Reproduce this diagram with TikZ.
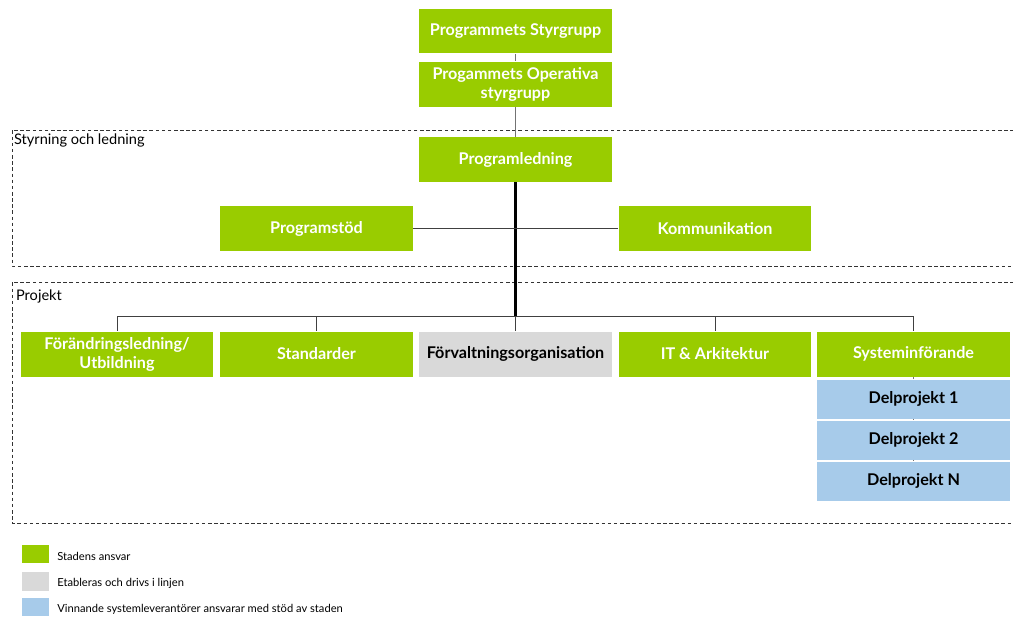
\documentclass[tikz,border=0pt]{standalone}
\usepackage{fontspec}
\setmainfont{Lato}
\usepackage{xcolor}
\definecolor{stadgreen}{HTML}{99CC00}
\definecolor{linjegrey}{HTML}{D9D9D9}
\definecolor{levblue}{HTML}{A7CBEA}

\begin{document}
\begin{tikzpicture}[x=0.02cm,y=-0.02cm]
        \tikzset{
        org box/.style={rectangle,minimum width=3.86cm,minimum height=0.9cm,inner sep=1pt,align=center,font=\fontsize{9.2}{10.8}\selectfont\bfseries},
        green box/.style={org box,fill=stadgreen,text=white},
        grey box/.style={org box,fill=linjegrey,text=black},
        del box/.style={org box,fill=levblue,text=black,minimum height=0.78cm},
        org line/.style={draw=black!75,line width=0.5pt},
        area/.style={draw=black!80,dash pattern=on 2pt off 1.5pt,line width=0.5pt},
        area label/.style={anchor=north west,inner sep=1pt,font=\fontsize{8.3}{9}\selectfont},
        leg box/.style={rectangle,minimum width=0.54cm,minimum height=0.37cm,inner sep=0},
        leg text/.style={anchor=west,inner sep=0,font=\fontsize{6.35}{7}\selectfont}
        }
        \useasboundingbox (0,0) rectangle (1013,616);

        % areas
        \draw[area] (1020,130) -- (12,130) -- (12,266) -- (1020,266);
        \draw[area] (1020,282) -- (12,282) -- (12,523) -- (1020,523);
        \node[area label] (styrlab) at (12,132) {Styrning och ledning};
        \node[area label] (projlab) at (14,288) {Projekt};

        % boxes
        \node[green box] (styr) at (515.5,31) {Programmets Styrgrupp};
        \node[green box] (oper) at (515.5,84) {Progammets Operativa\\styrgrupp};
        \node[green box] (pled) at (515.5,159.5) {Programledning};
        \node[green box] (stod) at (316.5,228.5) {Programstöd};
        \node[green box] (komm) at (715,228.5) {Kommunikation};

        \node[green box] (forand) at (117,354) {Förändringsledning/\\Utbildning};
        \node[green box] (stand) at (316.5,354) {Standarder};
        \node[grey box] (forv) at (515.5,354) {Förvaltningsorganisation};
        \node[green box] (itark) at (715,354) {IT \& Arkitektur};
        \node[green box] (sysinf) at (913.5,354) {Systeminförande};

        \node[del box] (del1) at (913.5,399) {Delprojekt 1};
        \node[del box] (del2) at (913.5,440) {Delprojekt 2};
        \node[del box] (delN) at (913.5,481) {Delprojekt N};

        \coordinate (bus) at (515.5,316);

        \path[org line,draw=black!55]
        (styr) edge (oper)
        (oper) edge (pled)
        (sysinf) edge (del1)
        (del1) edge (del2)
        (del2) edge (delN)
        ;
        \draw[line width=1.6pt] (pled) -- (bus);
        \draw[org line] (stod) -- (komm);
        \draw[org line] (bus) -| (forand);
        \draw[org line] (bus) -| (stand);
        \draw[org line] (bus) -- (forv);
        \draw[org line] (bus) -| (itark);
        \draw[org line] (bus) -| (sysinf);

        % legend
        \node[leg box,fill=stadgreen] (leg1) at (35.5,554) {};
        \node[leg box,fill=linjegrey] (leg2) at (35.5,581.5) {};
        \node[leg box,fill=levblue] (leg3) at (35.5,607) {};
        \node[leg text] (legt1) at (57,556) {Stadens ansvar};
        \node[leg text] (legt2) at (57,583) {Etableras och drivs i linjen};
        \node[leg text] (legt3) at (57,609) {Vinnande systemleverantörer ansvarar med stöd av staden};
    \end{tikzpicture}
\end{document}
